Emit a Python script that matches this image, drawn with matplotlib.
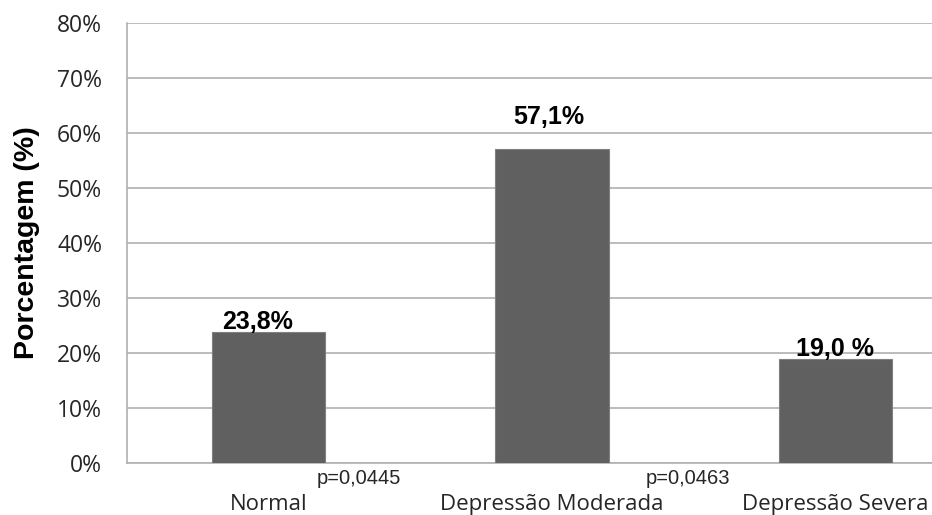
import matplotlib.pyplot as plt
from matplotlib.ticker import FuncFormatter

# data
categories = ["Normal", "Depressão Moderada", "Depressão Severa"]
values = [23.8, 57.1, 19.0]
value_labels = ["23,8%", "57,1%", "19,0 %"]
p_labels = ["p=0,0445", "p=0,0463"]
yticks = [0, 10, 20, 30, 40, 50, 60, 70, 80]

W, H = 932, 515
fig = plt.figure(figsize=(W / 100, H / 100), dpi=100)
# plot area runs past the right edge (original image is cropped)
ax = fig.add_axes([127 / W, 52 / H, 850 / W, 440 / H])

x = list(range(len(categories)))
ax.bar(x, values, width=0.40, color="#606060", edgecolor="#808080",
       linewidth=0.8, zorder=3)

ax.set_xlim(-0.5, 2.5)
ax.set_ylim(0, 80)
ax.set_yticks(yticks)
ax.yaxis.set_major_formatter(FuncFormatter(lambda v, _: f"{v:.0f}%"))
ax.grid(axis="y", color="#b0b0b0", linewidth=1.2, zorder=0)
ax.tick_params(axis="y", length=0, pad=18, labelsize=16.5, labelcolor="#262626")
for lab in ax.get_yticklabels():
    lab.set_fontfamily("Open Sans")

ax.set_xticks(x)
ax.set_xticklabels(categories, fontfamily="Open Sans", fontsize=16,
                   color="#262626")
ax.tick_params(axis="x", length=0, pad=22)

for s in ["top", "right"]:
    ax.spines[s].set_visible(False)
for s in ["left", "bottom"]:
    ax.spines[s].set_color("#b0b0b0")
    ax.spines[s].set_linewidth(1.2)

ax.set_ylabel("Porcentagem (%)", fontfamily="Liberation Sans", fontweight="bold",
              fontsize=20.5, labelpad=12)

# value labels above bars
offsets = [(-11, -2), (-3, 20), (0, -2)]
for xi, v, lab, off in zip(x, values, value_labels, offsets):
    ax.annotate(lab, (xi, v), xytext=off, textcoords="offset pixels",
                ha="center", va="bottom", fontfamily="Liberation Sans",
                fontweight="bold", fontsize=18, zorder=4)

# p-values between categories
p_pos = [0.32, 1.48]
for px, lab in zip(p_pos, p_labels):
    ax.annotate(lab, (px, 0), xytext=(0, -16), textcoords="offset pixels",
                ha="center", va="center", fontfamily="Liberation Sans",
                fontsize=14.5, color="#262626", annotation_clip=False)

fig.savefig("out.png", dpi=100)
